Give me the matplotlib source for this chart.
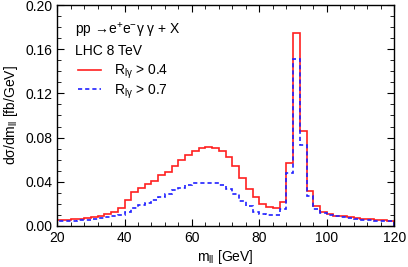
import numpy as np
import matplotlib
matplotlib.use("Agg")
import matplotlib.pyplot as plt
from matplotlib.ticker import MultipleLocator

plt.rcParams['font.family'] = ['Liberation Sans', 'DejaVu Sans']
plt.rcParams['font.size'] = 10
plt.rcParams['mathtext.fontset'] = 'custom'
plt.rcParams['mathtext.rm'] = 'Liberation Sans'
plt.rcParams['mathtext.it'] = 'Liberation Sans:italic'
plt.rcParams['mathtext.bf'] = 'Liberation Sans:bold'

# bin edges, 2 GeV wide
edges = np.arange(20, 122, 2)

# R_lgamma > 0.4
red_vals = [0.0050, 0.0055, 0.0060, 0.0065, 0.0072, 0.0080, 0.0090, 0.0105, 0.0125, 0.0165,
            0.0230, 0.0305, 0.0340, 0.0375, 0.0405, 0.0458, 0.0490, 0.0540, 0.0595, 0.0640,
            0.0680, 0.0703, 0.0714, 0.0705, 0.0680, 0.0622, 0.0540, 0.0435, 0.0338, 0.0260,
            0.0200, 0.0172, 0.0163, 0.0220, 0.0568, 0.1750, 0.0860, 0.0312, 0.0184, 0.0130,
            0.0108, 0.0094, 0.0085, 0.0078, 0.0070, 0.0064, 0.0059, 0.0055, 0.0051, 0.0048]

# R_lgamma > 0.7
blue_vals = [0.0040, 0.0043, 0.0047, 0.0051, 0.0056, 0.0062, 0.0068, 0.0076, 0.0086, 0.0100,
             0.0130, 0.0160, 0.0185, 0.0205, 0.0235, 0.0262, 0.0292, 0.0322, 0.0346, 0.0366,
             0.0384, 0.0390, 0.0391, 0.0386, 0.0370, 0.0330, 0.0290, 0.0225, 0.0178, 0.0130,
             0.0108, 0.0098, 0.0096, 0.0155, 0.0480, 0.1510, 0.0730, 0.0272, 0.0150, 0.0115,
             0.0098, 0.0088, 0.0078, 0.0070, 0.0063, 0.0057, 0.0052, 0.0048, 0.0044, 0.0041]

fig = plt.figure(figsize=(4.08, 2.67), dpi=100)
ax = fig.add_axes([0.14, 0.154, 0.826, 0.827])

ax.stairs(red_vals, edges, color='#ff2020', lw=1.2, label=r'R$_{\mathregular{l\gamma}}$ > 0.4')
ax.stairs(blue_vals, edges, color='#2020ff', lw=1.2, ls=(0, (2.5, 1.8)),
          label=r'R$_{\mathregular{l\gamma}}$ > 0.7')

ax.set_xlim(20, 120)
ax.set_ylim(0, 0.2)
ax.xaxis.set_major_locator(MultipleLocator(20))
ax.xaxis.set_minor_locator(MultipleLocator(4))
ax.yaxis.set_major_locator(MultipleLocator(0.04))
ax.yaxis.set_minor_locator(MultipleLocator(0.01))
ax.yaxis.set_major_formatter(matplotlib.ticker.FormatStrFormatter('%.2f'))
ax.tick_params(which='both', direction='in', top=True, right=True)
ax.tick_params(which='major', length=5)
ax.tick_params(which='minor', length=3)
for s in ax.spines.values():
    s.set_linewidth(1.0)

ax.set_xlabel(r'm$_{\mathregular{ll}}$ [GeV]', labelpad=2)
ax.set_ylabel(r'd$\mathregular{\sigma}$/dm$_{\mathregular{ll}}$ [fb/GeV]', labelpad=4)

ax.text(0.053, 0.887, r'pp →e$^{+}$e$^{-}$γ γ + X', transform=ax.transAxes, va='center')
ax.text(0.053, 0.792, 'LHC 8 TeV', transform=ax.transAxes, va='center')
ax.legend(loc='upper left', bbox_to_anchor=(0.045, 0.765), frameon=False,
          handlelength=1.7, handletextpad=0.9, labelspacing=0.1, borderaxespad=0)

fig.savefig('out.png', dpi=100)
